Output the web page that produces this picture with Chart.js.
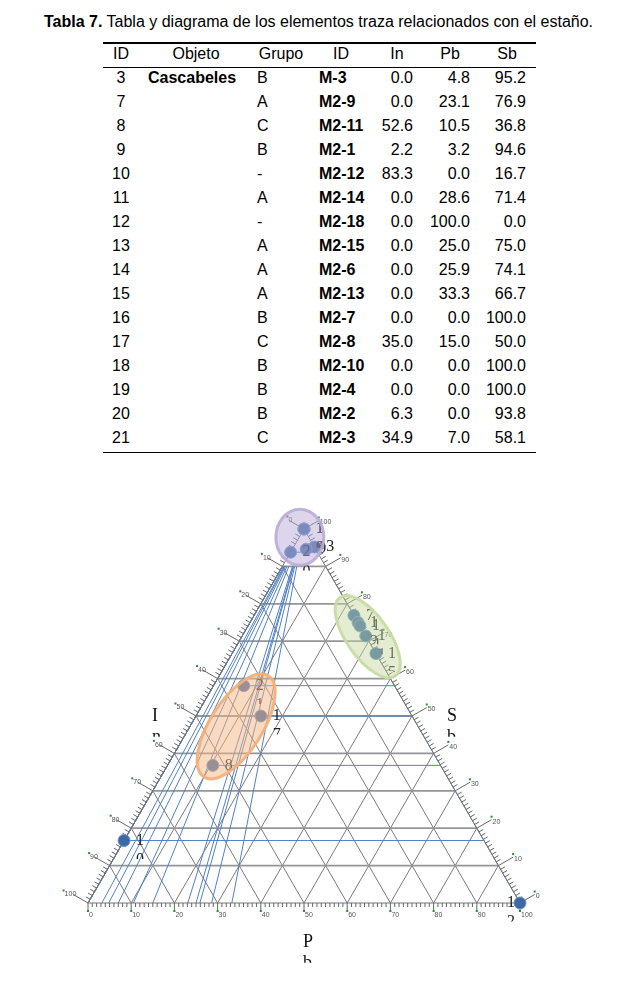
<!DOCTYPE html>
<html><head><meta charset="utf-8">
<script src="https://cdn.jsdelivr.net/npm/chart.js@4/dist/chart.umd.min.js"></script>
<style>
html,body{margin:0;padding:0;background:#fff;width:626px;height:986px;overflow:hidden;position:relative;font-family:"Liberation Sans",Arial,sans-serif;}
.t{position:absolute;font-size:16px;line-height:18px;white-space:nowrap;color:#000;}
.hl{position:absolute;background:#000;left:103px;width:433px;}
#wrap{position:absolute;left:0;top:460px;width:626px;height:526px;}
</style></head><body>
<div class="t" style="left:44px;top:13px;"><b>Tabla 7.</b> Tabla y diagrama de los elementos traza relacionados con el estaño.</div>
<div class="hl" style="top:42px;height:1.5px;"></div>
<div class="hl" style="top:67px;height:1px;"></div>
<div class="hl" style="top:452px;height:1px;"></div>
<div id="table"></div>
<div id="wrap"><canvas id="c" width="626" height="526"></canvas></div>
<script>
// ---------- data ----------
const headers = ["ID","Objeto","Grupo","ID","In","Pb","Sb"];
const ids     = [3,7,8,9,10,11,12,13,14,15,16,17,18,19,20,21];
const objetos = ["Cascabeles","","","","","","","","","","","","","","",""];
const grupos  = ["B","A","C","B","-","A","-","A","A","A","B","C","B","B","B","C"];
const codes   = ["M-3","M2-9","M2-11","M2-1","M2-12","M2-14","M2-18","M2-15","M2-6","M2-13","M2-7","M2-8","M2-10","M2-4","M2-2","M2-3"];
const inVals  = [0.0,0.0,52.6,2.2,83.3,0.0,0.0,0.0,0.0,0.0,0.0,35.0,0.0,0.0,6.3,34.9];
const pbVals  = [4.8,23.1,10.5,3.2,0.0,28.6,100.0,25.0,25.9,33.3,0.0,15.0,0.0,0.0,0.0,7.0];
const sbVals  = [95.2,76.9,36.8,94.6,16.7,71.4,0.0,75.0,74.1,66.7,100.0,50.0,100.0,100.0,93.8,58.1];
const gridLevels = [10,20,30,40,50,60,70,80,90];
const tickLabels = [0,10,20,30,40,50,60,70,80,90,100];
const groupNames = ["B","A","C","-"];

// ---------- table ----------
const hdrCols = [[121,'c'],[196,'c'],[281,'c'],[341,'c'],[397,'c'],[450,'c'],[507,'c']];
const valCols = [[121,'c'],[148,'l'],[257,'l'],[319,'l'],[413,'r'],[470,'r'],[526,'r']];
const tbl = document.getElementById('table');
function cell(text, x, a, y, bold){
  const d = document.createElement('div');
  d.className = 't';
  d.textContent = text;
  d.style.left = x + 'px';
  d.style.top = (y - 9) + 'px';
  if (a === 'c') d.style.transform = 'translateX(-50%)';
  if (a === 'r') d.style.transform = 'translateX(-100%)';
  if (bold) d.style.fontWeight = 'bold';
  tbl.appendChild(d);
}
headers.forEach((h,j)=>cell(h, hdrCols[j][0], hdrCols[j][1], 54, false));
ids.forEach((id,r)=>{
  const y = 78 + 24*r;
  const vals = [String(id), objetos[r], grupos[r], codes[r], inVals[r].toFixed(1), pbVals[r].toFixed(1), sbVals[r].toFixed(1)];
  vals.forEach((v,j)=>{ if (v) cell(v, valCols[j][0], valCols[j][1], y, j===1||j===3); });
});

// ---------- ternary chart ----------
const tern = (i,p,s) => ({x: p + s/2, y: s});
const groupStyle = {
  'B': {fill:'rgba(185,172,215,0.5)', stroke:'rgba(185,172,215,0.9)', rx:24, ry:28, rot:0, dx:-4, dy:-2},
  'A': {fill:'rgba(196,216,152,0.45)', stroke:'rgba(200,220,165,0.95)', rx:48, ry:21, rot:0.956, dx:5, dy:6},
  'C': {fill:'rgba(246,182,132,0.5)', stroke:'rgba(246,176,120,0.95)', rx:60, ry:26, rot:-1.004, dx:-3, dy:4}
};
const datasets = groupNames.map(g => ({
  label: g,
  data: ids.map((id,i)=>i).filter(i=>grupos[i]===g).map(i=>tern(inVals[i],pbVals[i],sbVals[i])),
  backgroundColor: 'rgb(60,104,166)',
  borderColor: 'rgb(110,146,200)',
  borderWidth: 1,
  pointRadius: 6,
  clip: false
}));

const ternPlugin = {
  id: 'tern',
  beforeDatasetsDraw(chart){
    const ctx = chart.ctx, xs = chart.scales.x, ys = chart.scales.y;
    const P = (i,p,s) => { const t = tern(i,p,s); return [xs.getPixelForValue(t.x), ys.getPixelForValue(t.y)]; };
    const line = (a,b) => { ctx.beginPath(); ctx.moveTo(a[0],a[1]); ctx.lineTo(b[0],b[1]); ctx.stroke(); };
    ctx.save();
    // grid
    ctx.strokeStyle = '#7a7a7a'; ctx.lineWidth = 1;
    gridLevels.forEach(k=>{
      line(P(100-k,k,0), P(0,k,100-k));
      line(P(k,100-k,0), P(k,0,100-k));
    });
    ctx.strokeStyle = '#959595'; ctx.lineWidth = 1.8;
    gridLevels.forEach(k=> line(P(100-k,0,k), P(0,100-k,k)));
    // blue projection lines
    ctx.strokeStyle = '#5080c6'; ctx.lineWidth = 1;
    ids.forEach((id,i)=>{
      const s = sbVals[i], p = pbVals[i];
      line(P(inVals[i],p,s), P(0,100-s,s));
      line(P(100-p,p,0), P(10-p/10,p/10,90));
    });
    // edges
    ctx.strokeStyle = '#777'; ctx.lineWidth = 1;
    line(P(100,0,0), P(0,100,0)); line(P(100,0,0), P(0,0,100)); line(P(0,100,0), P(0,0,100));
    // ticks
    const nL = [-0.866,-0.5], nR = [0.866,-0.5];
    ctx.font = '7px "Liberation Sans", Arial, sans-serif';
    ctx.textBaseline = 'middle';
    for (let v=0; v<=100; v++){
      const major = v % 10 === 0;
      let e = P(100-v,v,0), L = major ? 8 : 4;
      ctx.strokeStyle = '#666';
      line(e, [e[0], e[1]+L]);
      let el = P(v,0,100-v), LL = major ? 17 : 5;
      line(el, [el[0]+nL[0]*LL, el[1]+nL[1]*LL]);
      let er = P(0,100-v,v);
      line(er, [er[0]+nR[0]*LL, er[1]+nR[1]*LL]);
    }
    tickLabels.forEach(v=>{
      const txt = String(v);
      ctx.fillStyle = '#555';
      let e = P(100-v,v,0);
      ctx.textAlign = 'left';
      ctx.fillText(txt, e[0]+1, e[1]+12);
      ctx.fillStyle = '#1a9a1a'; ctx.fillRect(e[0]-1, e[1]+7, 2, 2);
      let el = P(v,0,100-v);
      let tx = el[0]+nL[0]*17+3, ty = el[1]+nL[1]*17;
      ctx.fillStyle = '#555'; ctx.textAlign = 'right';
      ctx.fillText(txt, tx, ty);
      const w = ctx.measureText(txt).width;
      ctx.fillStyle = '#1a9a1a'; ctx.fillRect(tx-w-2, ty-5, 2, 2);
      let er = P(0,100-v,v);
      let rx = er[0]+nR[0]*17, ry = er[1]+nR[1]*17;
      ctx.fillStyle = '#555'; ctx.textAlign = 'left';
      ctx.fillText(txt, rx+1, ry+2);
      ctx.fillStyle = '#1a9a1a'; ctx.fillRect(rx-1, ry-4, 2, 2);
    });
    ctx.restore();
  },
  afterDatasetsDraw(chart){
    const ctx = chart.ctx, xs = chart.scales.x, ys = chart.scales.y;
    const P = (i,p,s) => { const t = tern(i,p,s); return [xs.getPixelForValue(t.x), ys.getPixelForValue(t.y)]; };
    ctx.save();
    const stack = (txt, x, y, size, color) => {
      ctx.font = size + 'px "Liberation Serif", "Times New Roman", serif';
      ctx.fillStyle = color; ctx.textAlign = 'left'; ctx.textBaseline = 'middle';
      ctx.fillText(txt[0], x, y);
      if (txt.length > 1){
        const y2 = y + size*1.2;
        ctx.save(); ctx.beginPath(); ctx.rect(x-5, y2-size, size*2, size*0.95); ctx.clip();
        ctx.fillText(txt[1], x, y2);
        ctx.restore();
      }
    };
    // point labels
    ids.forEach((id,i)=>{
      const q = P(inVals[i],pbVals[i],sbVals[i]);
      const dx = pbVals[i] >= 90 ? -13 : 12;
      stack(String(id), q[0]+dx, q[1], 16, '#1e1e1e');
    });
    // group ellipses
    ['B','A','C'].forEach(g=>{
      const pts = ids.map((id,i)=>i).filter(i=>grupos[i]===g).map(i=>P(inVals[i],pbVals[i],sbVals[i]));
      const st = groupStyle[g];
      const cx = pts.reduce((a,b)=>a+b[0],0)/pts.length + st.dx, cy = pts.reduce((a,b)=>a+b[1],0)/pts.length + st.dy;
      ctx.beginPath(); ctx.ellipse(cx, cy, st.rx, st.ry, st.rot, 0, Math.PI*2);
      ctx.fillStyle = st.fill; ctx.fill();
      ctx.strokeStyle = st.stroke; ctx.lineWidth = 3; ctx.stroke();
    });
    // axis titles
    const lm = P(50,0,50), rm = P(0,50,50), bm = P(50,50,0);
    ctx.font = '18px "Liberation Serif", serif';
    const cw = s => ctx.measureText(s).width/2;
    stack('In', lm[0]-41-cw('I'), lm[1], 18, '#111');
    stack('Sb', rm[0]+40-cw('S'), rm[1], 18, '#111');
    stack('Pb', bm[0]+4-cw('P'), bm[1]+39, 18, '#111');
    ctx.restore();
  }
};

new Chart(document.getElementById('c'), {
  type: 'scatter',
  data: { datasets },
  options: {
    responsive: false, animation: false, devicePixelRatio: 1,
    layout: { padding: { left: 88, right: 106, top: 69, bottom: 83 } },
    scales: {
      x: { type: 'linear', min: 0, max: 100, display: false },
      y: { type: 'linear', min: 0, max: 100, display: false }
    },
    plugins: { legend: { display: false }, tooltip: { enabled: false } }
  },
  plugins: [ternPlugin]
});
</script>
</body></html>
